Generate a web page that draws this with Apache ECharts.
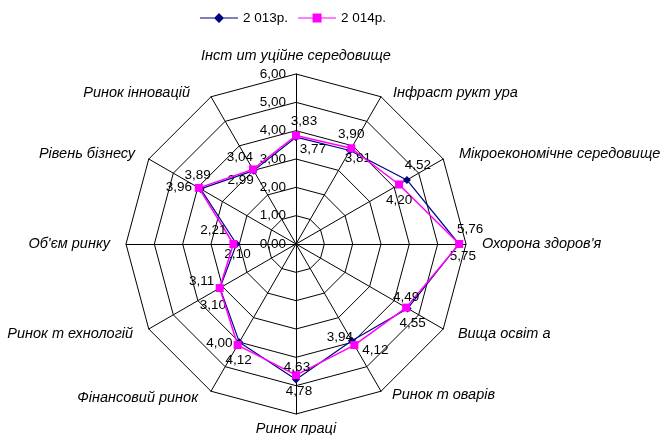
<!DOCTYPE html>
<html>
<head>
<meta charset="utf-8">
<script src="https://cdn.jsdelivr.net/npm/echarts@6/dist/echarts.min.js"></script>
<style>
  html, body { margin: 0; padding: 0; background: #fff; }
  #chart-container { width: 666px; height: 435px; }
</style>
</head>
<body>
<div id="chart-container"></div>
<script>
// indicators, clockwise from the top
const indicatorNames = [
    'Інст ит уційне середовище',
    'Інфраст рукт ура',
    'Мікроекономічне середовище',
    'Охорона здоров\'я',
    'Вища освіт а',
    'Ринок т оварів',
    'Ринок праці',
    'Фінансовий ринок',
    'Ринок т ехнологій',
    'Об\'єм ринку',
    'Рівень бізнесу',
    'Ринок інновацій'
];
const seriesNames = ['2 013р.', '2 014р.'];
const values2013 = [3.77, 3.81, 4.52, 5.75, 4.55, 3.94, 4.78, 4.00, 3.10, 2.10, 3.89, 2.99];
const values2014 = [3.83, 3.90, 4.20, 5.76, 4.49, 4.12, 4.63, 4.12, 3.11, 2.21, 3.96, 3.04];
const axisMax = 6;

// label offsets from each point (clockwise order), per series
const labelOffsets = [
    [[17, 12], [8, 8], [11, -15], [4, 12], [5, 15], [-12, -3], [3, 12], [-20, 1], [-7, 17], [1, 10], [-3, -14], [-13, 10]],
    [[8, -14], [0, -14], [0, 16], [11, -15], [0, -10], [21, 5], [1, -8], [1, 15], [-18, -7], [-20, -14], [-20, -1], [-13, -12]]
];
// axis name placement (clockwise order): gap from the axis end, [left, right] padding
const nameGaps = [11, 4, 10, 16, 10, 4, 7, 8, 10, 16, 10, 4];
const namePads = [[0, 0], [10, 0], [7, 0], [0, 0], [6, 0], [9, 0], [0, 0], [0, 9], [0, 7], [0, 0], [0, 5], [0, 19]];

const CX = 296, CY = 244;
const FONT = 'Liberation Sans, Arial, sans-serif';

// echarts draws radar axes counter-clockwise, so flip the order after the first one
const ccw = (arr) => [arr[0]].concat(arr.slice(1).reverse());
const fmt = (v) => Number(v).toFixed(2).replace('.', ',');

const nameRich = {};
namePads.forEach(function (p, i) {
    nameRich['n' + i] = {
        color: '#000',
        fontSize: 14.5,
        fontStyle: 'italic',
        fontFamily: FONT,
        padding: [0, p[1], 0, p[0]]
    };
});

const indicators = indicatorNames.map(function (name, i) {
    const ind = { name: name, min: 0, max: axisMax, nameGap: nameGaps[i] };
    if (i === 0) {
        ind.axisLabel = {
            show: true,
            color: '#000',
            fontSize: 13.5,
            fontFamily: FONT,
            margin: 10,
            formatter: fmt
        };
    }
    return ind;
});

const chart = echarts.init(document.getElementById('chart-container'));
chart.setOption({
    animation: false,
    legend: {
        top: 6,
        left: 195,
        itemWidth: 38,
        itemHeight: 10,
        itemGap: 10,
        textStyle: { color: '#000', fontSize: 13.5, fontFamily: FONT },
        data: [
            { name: seriesNames[0], icon: 'path://M0,4.5L14.5,4.5L19,0L23.5,4.5L38,4.5L38,5.5L23.5,5.5L19,10L14.5,5.5L0,5.5Z' },
            { name: seriesNames[1], icon: 'path://M0,4.5L14.5,4.5L14.5,0.5L23.5,0.5L23.5,4.5L38,4.5L38,5.5L23.5,5.5L23.5,9.5L14.5,9.5L14.5,5.5L0,5.5Z' }
        ]
    },
    radar: {
        center: [CX, CY],
        radius: 170,
        startAngle: 90,
        splitNumber: 6,
        shape: 'polygon',
        indicator: ccw(indicators),
        axisName: {
            color: '#000',
            fontSize: 14.5,
            fontStyle: 'italic',
            fontFamily: FONT,
            formatter: (name) => '{n' + indicatorNames.indexOf(name) + '|' + name + '}',
            rich: nameRich
        },
        axisLine: { lineStyle: { color: '#000', width: 1 } },
        splitLine: { lineStyle: { color: '#000', width: 1 } },
        splitArea: { show: false },
        axisTick: { show: false },
        axisLabel: { show: false }
    },
    series: [
        {
            name: seriesNames[0],
            type: 'radar',
            symbol: 'diamond',
            symbolSize: 8,
            itemStyle: { color: '#000080' },
            lineStyle: { color: '#000080', width: 1.2 },
            z: 2,
            data: [{ name: seriesNames[0], value: ccw(values2013) }]
        },
        {
            name: seriesNames[1],
            type: 'radar',
            symbol: 'rect',
            symbolSize: 8,
            itemStyle: { color: '#ff00ff' },
            lineStyle: { color: '#ff00ff', width: 1.5 },
            z: 3,
            data: [{ name: seriesNames[1], value: ccw(values2014) }]
        }
    ].map(function (s) {
        s.label = {
            show: true,
            position: 'inside',
            color: '#000',
            fontSize: 13.5,
            fontFamily: FONT,
            formatter: (p) => fmt(p.value)
        };
        s.labelLayout = function (p) {
            const x = p.rect.x + p.rect.width / 2;
            const y = p.rect.y + p.rect.height / 2;
            const ang = Math.atan2(CY - y, x - CX) * 180 / Math.PI;
            let i = Math.round((90 - ang) / 30);
            i = ((i % 12) + 12) % 12;
            const off = labelOffsets[p.seriesIndex][i];
            return { x: x + off[0], y: y + off[1], align: 'center', verticalAlign: 'middle' };
        };
        return s;
    })
});
</script>
</body>
</html>
